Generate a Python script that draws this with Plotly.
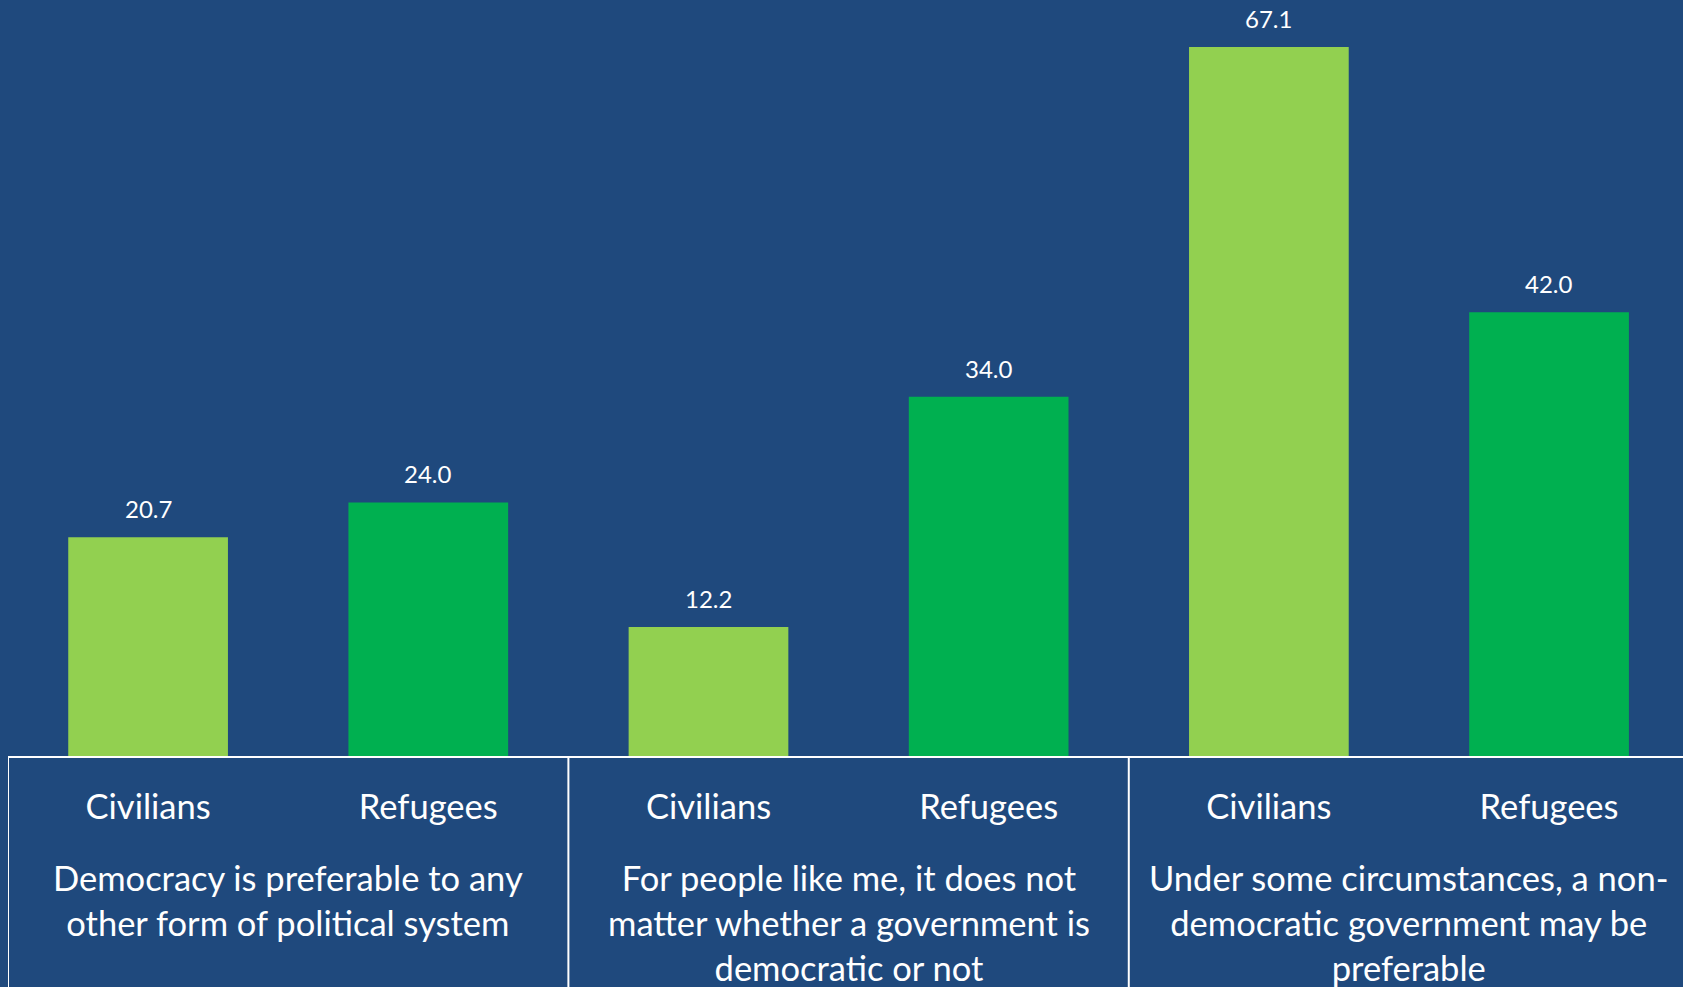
import plotly.graph_objects as go

groups = [
    "Democracy is preferable to any<br>other form of political system",
    "For people like me, it does not<br>matter whether a government is<br>democratic or not",
    "Under some circumstances, a non-<br>democratic government may be<br>preferable",
]
series_names = ["Civilians", "Refugees"]
civilians = [20.7, 12.2, 67.1]
refugees = [24.0, 34.0, 42.0]

BG = "#1F497D"
LIGHT = "#92D050"
DARK = "#00B050"
FONT = "Lato"
FS = 34.5

n_series = len(series_names)
positions = []
labels = []
values = []
colors = []
for gi, (c, r) in enumerate(zip(civilians, refugees)):
    for si, (name, v, col) in enumerate(zip(series_names, [c, r], [LIGHT, DARK])):
        positions.append(gi * n_series + si)
        labels.append(name)
        values.append(v)
        colors.append(col)

fig = go.Figure()
fig.add_trace(go.Bar(
    x=positions,
    y=values,
    marker=dict(color=colors, line=dict(width=0)),
    showlegend=False,
    hoverinfo="skip",
))

# value labels above bars
for p, v in zip(positions, values):
    fig.add_annotation(
        x=p, y=v, xref="x", yref="y",
        text=f"{v:.1f}",
        showarrow=False,
        yanchor="bottom",
        yshift=12,
        font=dict(family=FONT, size=24, color="white"),
    )

# group labels and box dividers
PLOT_H = 756.0
for gi, g in enumerate(groups):
    center = gi * n_series + (n_series - 1) / 2
    fig.add_annotation(
        x=center, y=-99 / PLOT_H, xref="x", yref="paper",
        text=g,
        showarrow=False,
        xanchor="center",
        yanchor="top",
        align="center",
        font=dict(family=FONT, size=FS, color="white"),
    )
    edge = gi * n_series - 0.5
    fig.add_shape(
        type="line",
        xref="x", yref="paper",
        x0=edge, x1=edge, y0=0, y1=-240 / PLOT_H,
        line=dict(color="white", width=2),
        layer="above",
    )

fig.update_layout(
    width=1683,
    height=987,
    autosize=False,
    paper_bgcolor=BG,
    plot_bgcolor=BG,
    margin=dict(l=8, r=0, t=0, b=231),
    bargap=0.43,
    font=dict(family=FONT, color="white"),
)
fig.update_xaxes(
    range=[-0.5, 5.478],
    tickmode="array",
    tickvals=positions,
    ticktext=labels,
    showline=True,
    linecolor="white",
    linewidth=2,
    showgrid=False,
    zeroline=False,
    ticks="",
    ticklabelstandoff=20,
    automargin=False,
    tickfont=dict(family=FONT, size=FS, color="white"),
)
fig.update_yaxes(
    range=[0, 71.56],
    visible=False,
    showgrid=False,
    zeroline=False,
)

fig.write_html(
    "out.html",
    config={"displayModeBar": False},
    post_script="document.body.style.margin='0';document.body.style.overflow='hidden';document.body.style.background='" + BG + "';",
)
